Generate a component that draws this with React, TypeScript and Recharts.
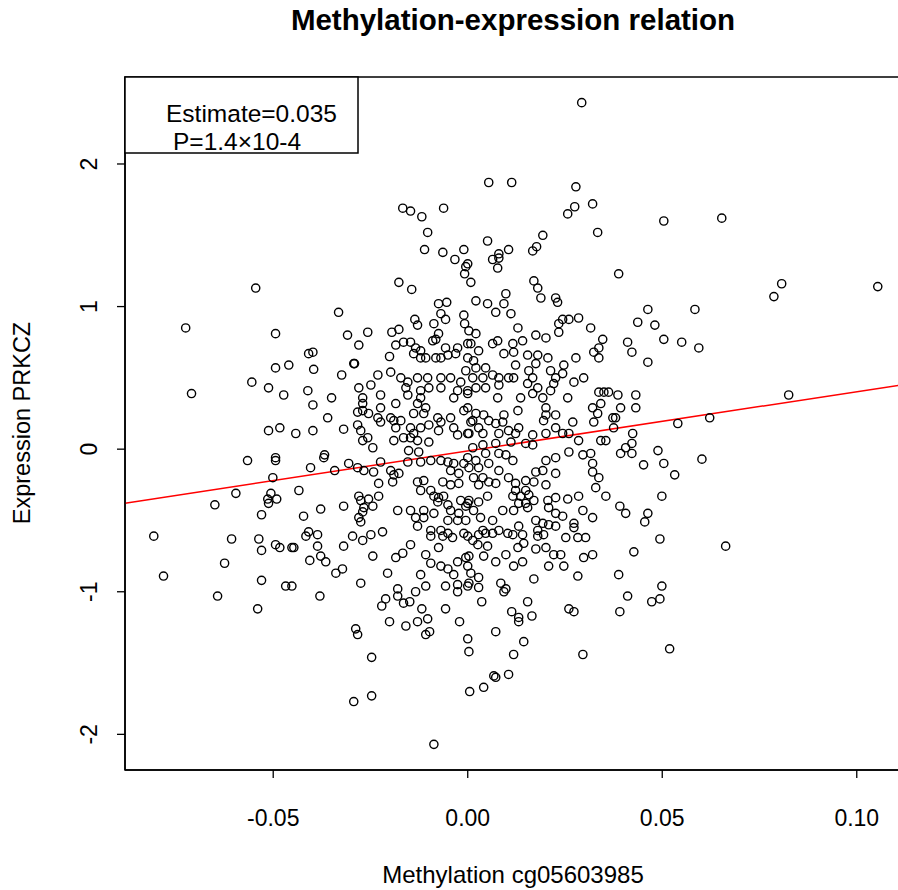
import React from "react";
import { ScatterChart, Scatter, XAxis, YAxis, ReferenceLine, ReferenceArea } from "recharts";

// [methylation cg05603985, expression PRKCZ]
const points: [number, number][] = [
  [-0.0545,1.13],[-0.0725,0.85],[-0.0494,0.81],[-0.0409,0.67],[-0.0494,0.57],[-0.0460,0.59],[-0.0396,0.56],[-0.0555,0.47],[-0.0512,0.43],[-0.0473,0.38],[-0.0411,0.41],[-0.0398,0.31],[-0.0710,0.39],
  [-0.0512,0.13],[-0.0483,0.15],[-0.0442,0.11],[-0.0398,0.13],[-0.0566,-0.08],[-0.0494,-0.06],[-0.0494,-0.08],[-0.0404,-0.13],[-0.0501,-0.20],[-0.0596,-0.31],[-0.0650,-0.39],[-0.0506,-0.31],[-0.0514,-0.35],[-0.0491,-0.35],[-0.0512,-0.38],[-0.0434,-0.29],[-0.0530,-0.46],[-0.0422,-0.47],[-0.0807,-0.61],[-0.0607,-0.63],[-0.0537,-0.63],[-0.0530,-0.71],[-0.0494,-0.67],[-0.0483,-0.69],[-0.0452,-0.69],[-0.0447,-0.69],[-0.0409,-0.58],[-0.0416,-0.61],[-0.0625,-0.80],[-0.0406,-0.78],[-0.0782,-0.89],[-0.0530,-0.92],[-0.0468,-0.96],[-0.0452,-0.96],[-0.0643,-1.03],[-0.0540,-1.12],
  [0.0504,1.60],[0.0653,1.62],[0.0388,1.23],[0.0807,1.16],[0.0787,1.07],[0.1054,1.14],[0.0463,0.98],[0.0584,0.98],[0.0437,0.89],[0.0481,0.87],[0.0411,0.75],[0.0504,0.77],[0.0550,0.75],[0.0594,0.71],[0.0422,0.68],[0.0463,0.61],[0.0386,0.38],[0.0432,0.38],[0.0393,0.29],[0.0432,0.29],[0.0380,0.22],[0.0825,0.38],[0.0540,0.18],[0.0622,0.22],
  [0.0424,0.11],[0.0422,0.04],[0.0406,0.01],[0.0393,-0.03],[0.0422,-0.03],[0.0489,-0.01],[0.0452,-0.11],[0.0504,-0.10],[0.0602,-0.07],[0.0532,-0.18],[0.0499,-0.33],[0.0391,-0.40],[0.0406,-0.45],[0.0463,-0.45],[0.0455,-0.51],[0.0494,-0.63],[0.0427,-0.72],[0.0663,-0.68],[0.0388,-0.88],[0.0499,-0.96],[0.0411,-1.03],[0.0473,-1.07],[0.0494,-1.05],[0.0391,-1.14],[0.0519,-1.40],
  [-0.0167,1.69],[-0.0147,1.67],[-0.0118,1.63],[-0.0062,1.69],[-0.0103,1.52],[-0.0111,1.40],[-0.0064,1.38],[-0.0010,1.40],
  [0.0293,2.43],[0.0054,1.87],[0.0113,1.87],[0.0278,1.84],[0.0275,1.70],[0.0257,1.65],[0.0321,1.72],[0.0334,1.52],[0.0051,1.46],[0.0080,1.37],[0.0105,1.40],[0.0193,1.50],[0.0177,1.42],[0.0167,1.39],
  [-0.0033,1.33],[-0.0005,1.28],[-0.0008,1.23],[-0.0177,1.17],[-0.0144,1.12],[-0.0332,0.96],[-0.0075,1.02],[-0.0054,1.03],[-0.0069,0.95],[-0.0057,0.91],[-0.0010,0.94],[-0.0008,0.88],[0.0003,0.83],[-0.0136,0.91],[-0.0129,0.87],[-0.0087,0.88],[-0.0309,0.80],[-0.0257,0.82],[-0.0280,0.73],[-0.0195,0.82],[-0.0177,0.84],[-0.0075,0.81],[-0.0082,0.77],[-0.0090,0.76],[-0.0185,0.73],[-0.0165,0.75],[-0.0147,0.75],[-0.0134,0.71],[-0.0121,0.69],[-0.0139,0.67],[-0.0121,0.64],[-0.0108,0.64],[-0.0082,0.64],[-0.0069,0.64],[-0.0057,0.71],[-0.0051,0.66],[-0.0026,0.71],[-0.0031,0.67],[0.0000,0.74],[-0.0398,0.68],[-0.0201,0.65],[-0.0293,0.60],[-0.0291,0.60],[-0.0324,0.52],[-0.0231,0.52],[-0.0198,0.54],[-0.0172,0.50],[-0.0154,0.47],[-0.0129,0.50],[-0.0103,0.50],[-0.0069,0.50],[-0.0044,0.50],[-0.0018,0.47],[-0.0280,0.43],[-0.0249,0.45],[-0.0224,0.38],[-0.0159,0.43],[-0.0121,0.41],[-0.0121,0.36],[-0.0100,0.43],[-0.0069,0.43],[-0.0026,0.41],[-0.0036,0.36],[0.0000,0.39],[-0.0350,0.36],[-0.0154,0.38],[-0.0270,0.36],[-0.0270,0.32],[-0.0270,0.27],[-0.0224,0.29],[-0.0185,0.32],[-0.0129,0.32],[-0.0108,0.29],[-0.0283,0.26],[-0.0255,0.25],[-0.0231,0.22],[-0.0360,0.22],[-0.0198,0.22],[-0.0172,0.20],[-0.0139,0.25],[-0.0113,0.25],[-0.0077,0.22],[-0.0044,0.22],[-0.0010,0.27],
  [0.0064,1.33],[0.0080,1.34],[0.0077,1.27],[0.0000,1.30],[0.0008,1.17],[0.0170,1.18],[0.0180,1.13],[0.0188,1.06],[0.0226,1.06],[0.0231,1.03],[0.0098,1.09],[0.0021,1.04],[0.0051,1.02],[0.0093,1.02],[0.0072,0.96],[0.0111,0.95],[0.0285,0.92],[0.0260,0.91],[0.0244,0.91],[0.0234,0.88],[0.0234,0.82],[0.0129,0.85],[0.0316,0.85],[0.0175,0.80],[0.0201,0.78],[0.0021,0.81],[0.0077,0.76],[0.0064,0.74],[0.0116,0.74],[0.0141,0.76],[0.0347,0.77],[0.0324,0.68],[0.0337,0.64],[0.0337,0.71],[0.0008,0.74],[0.0028,0.69],[0.0000,0.64],[0.0015,0.62],[0.0093,0.67],[0.0118,0.68],[0.0154,0.66],[0.0180,0.66],[0.0206,0.64],[0.0175,0.60],[0.0278,0.64],[0.0247,0.59],[-0.0005,0.55],[0.0021,0.57],[0.0046,0.57],[0.0013,0.50],[0.0039,0.50],[0.0064,0.52],[0.0080,0.50],[0.0105,0.50],[0.0118,0.50],[0.0123,0.59],[0.0157,0.55],[0.0167,0.50],[0.0213,0.55],[0.0226,0.50],[0.0244,0.53],[0.0298,0.50],[0.0273,0.47],[0.0021,0.43],[0.0046,0.43],[0.0080,0.45],[0.0154,0.46],[0.0180,0.43],[0.0221,0.46],[0.0000,0.41],[0.0337,0.40],[0.0350,0.40],[0.0362,0.40],[0.0077,0.36],[0.0136,0.36],[0.0167,0.39],[0.0193,0.36],[0.0213,0.41],[0.0257,0.36],[0.0000,0.29],[0.0021,0.25],[0.0041,0.24],[0.0129,0.27],[0.0093,0.24],[0.0201,0.29],[0.0226,0.24],[0.0201,0.24],[0.0321,0.29],[0.0342,0.32],[0.0334,0.25],[0.0373,0.22],[0.0270,0.19],[0.0008,0.19],[0.0054,0.20],[0.0090,0.19],
  [-0.0319,0.14],[-0.0283,0.17],[-0.0275,0.13],[-0.0257,0.08],[-0.0244,0.01],[-0.0270,0.06],[-0.0224,0.19],[-0.0190,0.20],[-0.0185,0.15],[-0.0190,0.06],[-0.0147,0.15],[-0.0165,0.08],[-0.0147,0.08],[-0.0129,0.06],[-0.0139,0.11],[-0.0121,0.15],[-0.0100,0.05],[-0.0100,0.17],[-0.0069,0.19],[-0.0075,0.13],[-0.0036,0.15],[-0.0026,0.10],[0.0000,0.11],[-0.0152,-0.01],[-0.0126,-0.02],[-0.0370,-0.06],[-0.0368,-0.04],[-0.0342,-0.15],[-0.0306,-0.10],[-0.0283,-0.13],[-0.0267,-0.15],[-0.0242,-0.16],[-0.0224,-0.09],[-0.0198,-0.15],[-0.0190,-0.18],[-0.0177,-0.17],[-0.0193,-0.23],[-0.0154,-0.09],[-0.0121,-0.09],[-0.0095,-0.08],[-0.0069,-0.08],[-0.0051,-0.09],[-0.0036,-0.10],[-0.0010,-0.10],[-0.0044,-0.15],[-0.0023,-0.17],[0.0000,-0.06],[-0.0229,-0.24],[-0.0129,-0.23],[-0.0113,-0.22],[-0.0121,-0.29],[-0.0095,-0.29],[-0.0064,-0.23],[-0.0044,-0.25],[-0.0023,-0.24],[-0.0280,-0.33],[-0.0255,-0.35],[-0.0229,-0.33],[-0.0275,-0.36],[-0.0087,-0.33],[-0.0075,-0.34],[-0.0062,-0.33],[-0.0077,-0.37],[-0.0051,-0.39],[-0.0018,-0.36],[0.0000,-0.38],[-0.0378,-0.42],[-0.0319,-0.40],[-0.0267,-0.41],[-0.0244,-0.40],[-0.0270,-0.44],[-0.0180,-0.43],[-0.0147,-0.43],[-0.0113,-0.43],[-0.0087,-0.45],[-0.0044,-0.43],[-0.0023,-0.45],[-0.0005,-0.40],[-0.0280,-0.48],[-0.0275,-0.51],[-0.0134,-0.48],[-0.0113,-0.48],[-0.0051,-0.50],[-0.0026,-0.50],[-0.0005,-0.50],[-0.0386,-0.60],[-0.0129,-0.54],[-0.0219,-0.58],[-0.0249,-0.60],[-0.0296,-0.61],[-0.0270,-0.64],[-0.0095,-0.57],[-0.0069,-0.57],[-0.0051,-0.59],[-0.0095,-0.61],[-0.0064,-0.61],[-0.0039,-0.62],[-0.0010,-0.59],[-0.0319,-0.68],[-0.0386,-0.68],[-0.0147,-0.67],[-0.0075,-0.69],[-0.0378,-0.75],[-0.0365,-0.79],[-0.0244,-0.75],[-0.0185,-0.76],[-0.0167,-0.73],[-0.0108,-0.74],[-0.0095,-0.80],[-0.0069,-0.82],[-0.0051,-0.84],[-0.0026,-0.79],[-0.0005,-0.76],[-0.0339,-0.87],[-0.0322,-0.84],[-0.0206,-0.87],[-0.0121,-0.88],[-0.0036,-0.88],[-0.0275,-0.94],[-0.0180,-0.98],[-0.0108,-0.96],[-0.0057,-0.96],[-0.0026,-0.95],[0.0000,-0.96],
  [0.0013,0.20],[0.0028,0.15],[0.0072,0.18],[0.0131,0.15],[0.0195,0.20],[0.0226,0.15],[0.0324,0.19],[0.0375,0.15],[0.0003,0.11],[0.0039,0.11],[0.0080,0.11],[0.0105,0.13],[0.0123,0.11],[0.0167,0.10],[0.0201,0.11],[0.0244,0.11],[0.0260,0.11],[0.0285,0.06],[0.0342,0.06],[0.0355,0.06],[0.0072,0.04],[0.0111,0.05],[0.0149,0.04],[0.0167,0.03],[0.0013,0.01],[0.0039,0.03],[0.0260,-0.02],[0.0296,-0.04],[0.0316,-0.03],[0.0321,-0.10],[0.0021,-0.08],[0.0046,-0.03],[0.0080,-0.03],[0.0098,-0.04],[0.0116,-0.08],[0.0201,-0.08],[0.0226,-0.06],[0.0003,-0.13],[0.0028,-0.13],[0.0054,-0.10],[0.0080,-0.15],[0.0193,-0.15],[0.0175,-0.16],[0.0226,-0.17],[0.0321,-0.16],[0.0337,-0.20],[0.0015,-0.20],[0.0039,-0.20],[0.0054,-0.23],[0.0072,-0.24],[0.0028,-0.25],[0.0105,-0.20],[0.0123,-0.24],[0.0149,-0.22],[0.0170,-0.23],[0.0201,-0.25],[0.0329,-0.27],[0.0123,-0.29],[0.0149,-0.29],[0.0116,-0.33],[0.0136,-0.33],[0.0157,-0.32],[0.0170,-0.36],[0.0131,-0.38],[0.0149,-0.38],[0.0206,-0.36],[0.0226,-0.34],[0.0257,-0.35],[0.0285,-0.33],[0.0355,-0.33],[0.0003,-0.36],[0.0028,-0.37],[0.0051,-0.33],[0.0208,-0.41],[0.0090,-0.43],[0.0118,-0.43],[0.0154,-0.41],[0.0015,-0.43],[0.0226,-0.45],[0.0244,-0.47],[0.0296,-0.43],[0.0321,-0.48],[0.0033,-0.48],[0.0064,-0.50],[0.0175,-0.50],[0.0193,-0.52],[0.0208,-0.53],[0.0273,-0.52],[0.0273,-0.55],[0.0131,-0.54],[0.0226,-0.54],[0.0039,-0.57],[0.0046,-0.59],[0.0028,-0.60],[0.0064,-0.59],[0.0080,-0.57],[0.0103,-0.59],[0.0116,-0.60],[0.0141,-0.60],[0.0180,-0.57],[0.0195,-0.60],[0.0180,-0.61],[0.0000,-0.61],[0.0013,-0.64],[0.0252,-0.62],[0.0283,-0.62],[0.0303,-0.62],[0.0026,-0.67],[0.0051,-0.68],[0.0129,-0.69],[0.0144,-0.66],[0.0175,-0.70],[0.0201,-0.69],[0.0221,-0.74],[0.0239,-0.74],[0.0003,-0.75],[0.0041,-0.75],[0.0098,-0.74],[0.0072,-0.79],[0.0298,-0.76],[0.0321,-0.74],[0.0118,-0.82],[0.0141,-0.79],[0.0208,-0.82],[0.0247,-0.82],[0.0000,-0.82],[0.0008,-0.87],[0.0028,-0.90],[0.0170,-0.91],[0.0283,-0.89],[0.0085,-0.94],[0.0098,-0.98],[0.0028,-0.97],[0.0003,-0.94],
  [-0.0380,-1.03],[-0.0211,-1.05],[-0.0221,-1.10],[-0.0180,-1.03],[-0.0165,-1.08],[-0.0149,-1.07],[-0.0134,-1.00],[-0.0118,-1.12],[-0.0057,-1.12],[-0.0026,-1.00],[-0.0288,-1.26],[-0.0283,-1.30],[-0.0201,-1.21],[-0.0159,-1.24],[-0.0129,-1.21],[-0.0103,-1.19],[-0.0108,-1.30],[-0.0098,-1.28],[-0.0021,-1.21],[0.0000,-1.33],[0.0003,-1.42],[-0.0247,-1.46],[-0.0293,-1.77],[-0.0247,-1.73],[0.0005,-1.70],[-0.0087,-2.07],
  [0.0093,-1.00],[0.0036,-1.07],[0.0154,-1.07],[0.0113,-1.14],[0.0131,-1.18],[0.0131,-1.21],[0.0165,-1.17],[0.0260,-1.12],[0.0273,-1.14],[0.0072,-1.28],[0.0144,-1.35],[0.0118,-1.44],[0.0296,-1.44],[0.0067,-1.59],[0.0072,-1.60],[0.0105,-1.58],[0.0041,-1.67],
];

const xTicks = [-0.05, 0, 0.05, 0.1];
const yTicks = [-2, -1, 0, 1, 2];
const xDomain: [number, number] = [-0.0881, 0.1124];
const yDomain: [number, number] = [-2.25, 2.61];
const fitIntercept = -0.013;
const fitSlope = 4.16;

const title = "Methylation-expression relation";
const xLabel = "Methylation cg05603985";
const yLabel = "Expression PRKCZ";
const legendLines = ["Estimate=0.035", "P=1.4\u00d710-4"];

const data = points.map(([x, y]) => ({ x, y }));
const fitSegment = xDomain.map((x) => ({ x, y: fitIntercept + fitSlope * x }));

const FONT = "'Liberation Sans', Arial, sans-serif";

const Dot = (props: any) => (
  <circle cx={props.cx} cy={props.cy} r={4.1} fill="none" stroke="#000" strokeWidth={1.4} />
);

const YTick = (props: any) => {
  const { x, y, payload } = props;
  return (
    <text x={x} y={y} transform={`rotate(-90 ${x} ${y})`} textAnchor="middle" fontSize={23} fill="#000" fontFamily={FONT}>
      {String(payload.value)}
    </text>
  );
};

export default function App() {
  return (
    <div style={{ position: "fixed", left: 0, top: 0, width: 898, height: 890, overflow: "hidden", background: "#fff", fontFamily: FONT }}>
      <ScatterChart width={920} height={890} margin={{ top: 77, right: 15, bottom: 0, left: 0 }}>
        <XAxis
          type="number"
          dataKey="x"
          domain={xDomain}
          allowDataOverflow
          ticks={xTicks}
          tickFormatter={(v: number) => v.toFixed(2)}
          height={120}
          tickSize={8}
          tickMargin={32}
          tick={{ fontSize: 23, fill: "#000", fontFamily: FONT }}
          stroke="#000"
          axisLine={{ stroke: "#000", strokeWidth: 1.5 }}
          tickLine={{ stroke: "#000", strokeWidth: 1.3 }}
        />
        <YAxis
          type="number"
          dataKey="y"
          domain={yDomain}
          allowDataOverflow
          ticks={yTicks}
          width={125}
          tickSize={8}
          tickMargin={20}
          tick={<YTick />}
          axisLine={{ stroke: "#000", strokeWidth: 1.5 }}
          tickLine={{ stroke: "#000", strokeWidth: 1.3 }}
        />
        <ReferenceArea x1={xDomain[0]} x2={xDomain[1]} y1={yDomain[0]} y2={yDomain[1]} fill="none" fillOpacity={0} stroke="#000" strokeWidth={1.5} ifOverflow="visible" />
        <Scatter data={data} shape={<Dot />} isAnimationActive={false} />
        <ReferenceLine segment={fitSegment} stroke="#ff0000" strokeWidth={1.5} ifOverflow="hidden" />
      </ScatterChart>
      <svg width={898} height={890} style={{ position: "absolute", left: 0, top: 0, pointerEvents: "none" }}>
        <text x={513} y={30} textAnchor="middle" fontSize={29.5} fontWeight="bold" fill="#000" fontFamily={FONT}>{title}</text>
        <text x={513} y={883} textAnchor="middle" fontSize={24} fill="#000" fontFamily={FONT}>{xLabel}</text>
        <text x={30} y={423} transform="rotate(-90 30 423)" textAnchor="middle" fontSize={23.5} fill="#000" fontFamily={FONT}>{yLabel}</text>
        <rect x={125} y={77} width={233} height={76} fill="#fff" stroke="#000" strokeWidth={1.5} />
        <text x={166} y={122} fontSize={24.5} fill="#000" fontFamily={FONT}>{legendLines[0]}</text>
        <text x={173} y={150} fontSize={24.5} fill="#000" fontFamily={FONT}>{legendLines[1]}</text>
      </svg>
    </div>
  );
}
